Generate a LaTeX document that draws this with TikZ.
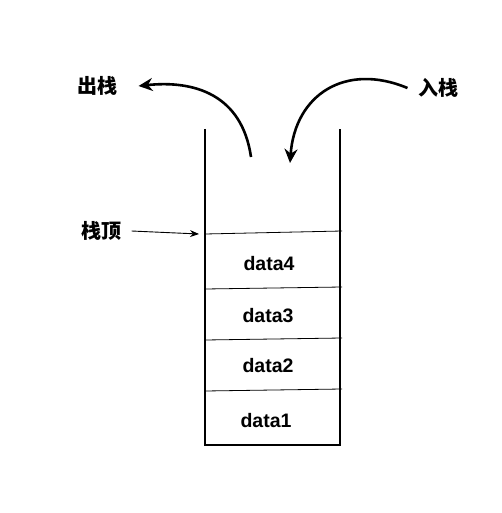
\documentclass[tikz,border=0pt]{standalone}
\usepackage{fontspec}
\setmainfont{Liberation Sans}
\newfontfamily\cjk{Noto Sans CJK SC}
\usetikzlibrary{arrows.meta}

\begin{document}
\begin{tikzpicture}[
  x=1pt, y=-1pt,
  cell/.style={font=\fontsize{19.5}{22}\selectfont\bfseries},
  stacklabel/.style={font=\fontsize{20}{22}\selectfont\cjk\bfseries},
  wall/.style={line width=1.4pt},
  divider/.style={line width=0.8pt},
  curved/.style={-{Stealth[length=14pt,width=13pt]}, line width=2.6pt},
  pointer/.style={-{Stealth[length=9pt,width=7pt]}, line width=0.9pt}
]
\useasboundingbox (0,0) rectangle (502,513);

% stack body
\draw[wall] (205,129) -- (205,445) -- (340,445) -- (340,129);
\draw[divider] (205,234) -- (342,231);
\draw[divider] (205,289) -- (342,287);
\draw[divider] (205,340) -- (342,338);
\draw[divider] (205,391) -- (342,389);

\node[cell] (d4) at (269,264) {data4};
\node[cell] (d3) at (268,316) {data3};
\node[cell] (d2) at (268,366) {data2};
\node[cell] (d1) at (266,421) {data1};

\node[stacklabel] (pop) at (97,86) {出栈};
\node[stacklabel] (push) at (438,88) {入栈};
\node[stacklabel] (top) at (101,231) {栈顶};

\coordinate (popstart) at (251,157);
\coordinate (pushend) at (290,163);
\coordinate (topend) at (199,234);

\draw[curved] (popstart) .. controls (242,95) and (195,80) .. ([xshift=18pt]pop.east);
\draw[curved] ([xshift=-7pt]push.west) .. controls (345,62) and (295,95) .. (pushend);
\draw[pointer] ([xshift=7pt]top.east) -- (topend);
\end{tikzpicture}
\end{document}
